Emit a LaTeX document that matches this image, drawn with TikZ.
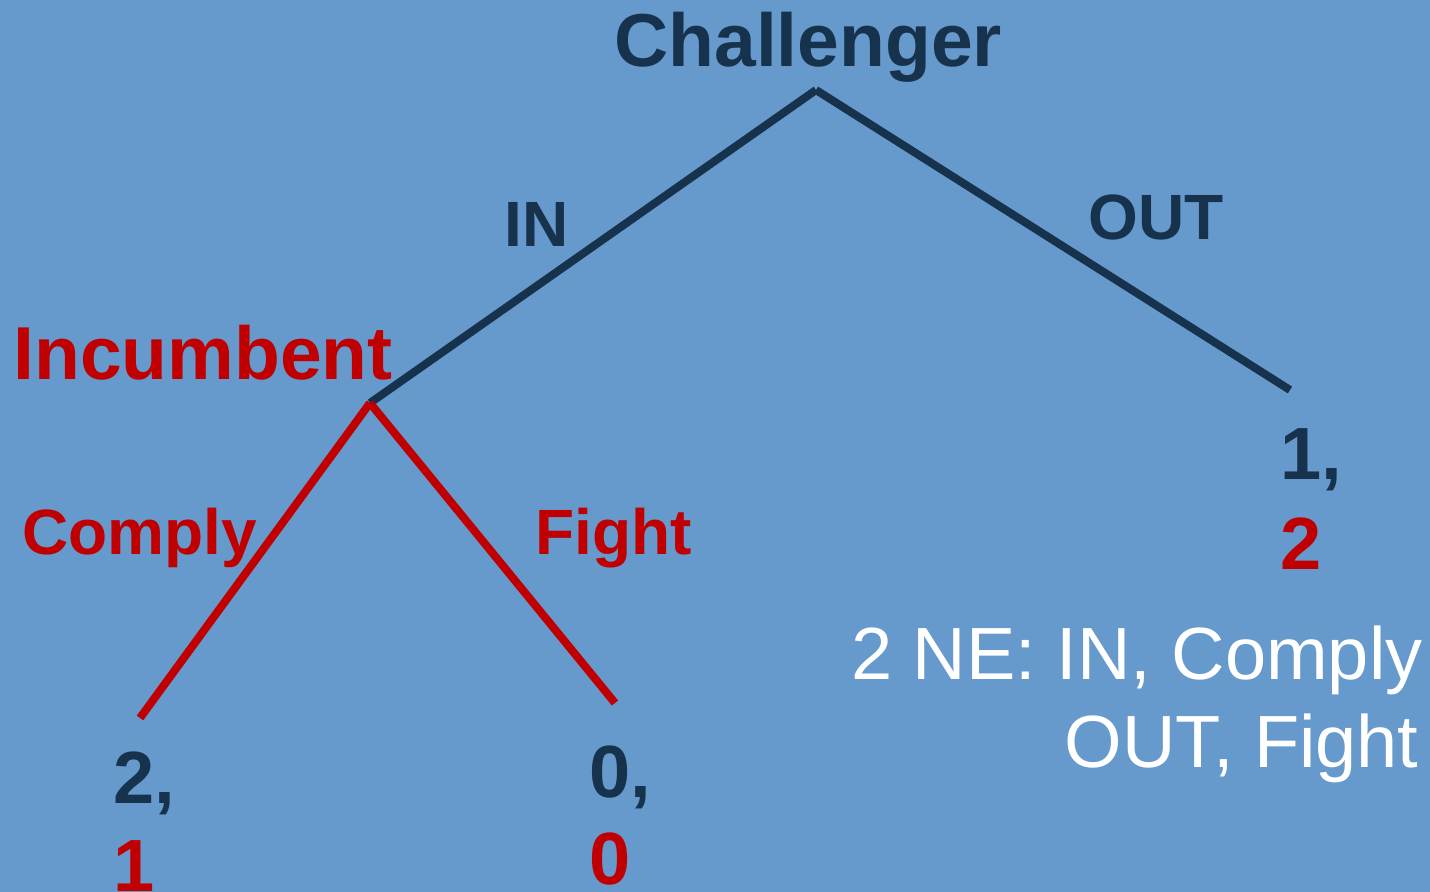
\documentclass[tikz,border=0pt]{standalone}
\usepackage{fontspec}
\setmainfont{Liberation Sans}
\definecolor{bgblue}{HTML}{6699CC}
\definecolor{navy}{HTML}{17324D}
\definecolor{crimson}{HTML}{C00000}
\tikzset{
  player/.style={font=\fontsize{37.5}{45}\selectfont\bfseries, inner sep=0pt, anchor=base west},
  move/.style={font=\fontsize{32}{38}\selectfont\bfseries, inner sep=0pt, anchor=base west},
  payoff/.style={font=\fontsize{37}{44}\selectfont\bfseries, inner sep=0pt, anchor=base west},
  note/.style={font=\fontsize{37}{44}\selectfont, text=white, inner sep=0pt, anchor=base east},
  branch/.style={line width=4pt, line cap=butt}
}
\begin{document}
\begin{tikzpicture}[x=0.5pt, y=-0.5pt]
  % canvas
  \fill[bgblue] (0,0) rectangle (1430,892);
  \useasboundingbox (0,0) rectangle (1430,892);

  % decision nodes and terminal points
  \coordinate (root) at (816,90);
  \coordinate (inc) at (370,403);
  \coordinate (outend) at (1290,390);
  \coordinate (complyend) at (140,718);
  \coordinate (fightend) at (615,703);

  % branches
  \draw[branch, navy] (root) -- (inc);
  \draw[branch, navy] (root) -- (outend);
  \draw[branch, crimson] (inc) -- (complyend);
  \draw[branch, crimson] (inc) -- (fightend);

  % players
  \node[player, text=navy] (chal) at (614,67) {Challenger};
  \node[player, text=crimson] (incl) at (13,380) {Incumbent};

  % moves
  \node[move, text=navy] (in) at (504,247) {IN};
  \node[move, text=navy] (out) at (1088,240) {OUT};
  \node[move, text=crimson] (comply) at (22,555) {Comply};
  \node[move, text=crimson] (fight) at (535,555) {Fight};

  % payoffs
  \node[payoff, text=navy] (p1a) at (113,803) {2,};
  \node[payoff, text=crimson] (p1b) at (113,891) {1};
  \node[payoff, text=navy] (p2a) at (589,797) {0,};
  \node[payoff, text=crimson] (p2b) at (589,884) {0};
  \node[payoff, text=navy] (p3a) at (1280,480) {1,};
  \node[payoff, text=crimson] (p3b) at (1280,570) {2};

  % equilibria
  \node[note] (ne1) at (1423,680) {2 NE: IN, Comply};
  \node[note] (ne2) at (1419,768) {OUT, Fight};
\end{tikzpicture}
\end{document}
